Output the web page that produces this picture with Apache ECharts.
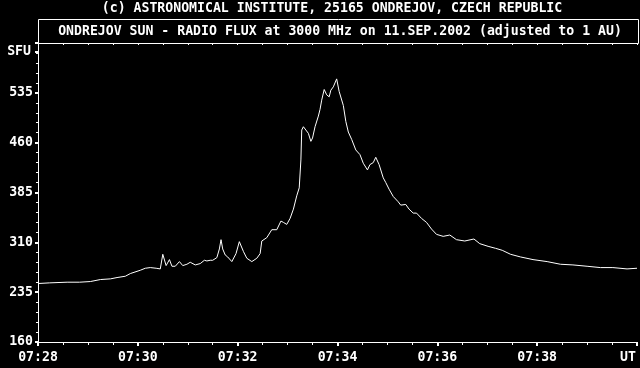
<!DOCTYPE html>
<html>
<head>
<meta charset="utf-8">
<script src="https://cdn.jsdelivr.net/npm/echarts@6/dist/echarts.min.js"></script>
<style>
html,body{margin:0;padding:0;background:#000;}
#chart{width:640px;height:368px;}
</style>
</head>
<body>
<div id="chart"></div>
<script>
const titleText = "(c) ASTRONOMICAL INSTITUTE, 25165 ONDREJOV, CZECH REPUBLIC";
const subtitleText = "ONDREJOV SUN - RADIO FLUX at 3000 MHz on 11.SEP.2002 (adjusted to 1 AU)";
const yUnit = "SFU";
const xUnit = "UT";
const startTime = "07:28:00";
const endTime = "07:40:00";
const yMin = 160, yMax = 610, yStep = 75;

const times = [
"07:28:00","07:28:14","07:28:35","07:28:50","07:29:03","07:29:15","07:29:27","07:29:35","07:29:45","07:29:51",
"07:30:03","07:30:09","07:30:15","07:30:22","07:30:27","07:30:30","07:30:34","07:30:38","07:30:41","07:30:45",
"07:30:50","07:30:54","07:30:59","07:31:03","07:31:09","07:31:15","07:31:20","07:31:23","07:31:27","07:31:30",
"07:31:35","07:31:38","07:31:40","07:31:42","07:31:45","07:31:48","07:31:53","07:31:58","07:32:02","07:32:07",
"07:32:11","07:32:17","07:32:23","07:32:27","07:32:29","07:32:35","07:32:41","07:32:47","07:32:52","07:32:55",
"07:32:59","07:33:03","07:33:07","07:33:11","07:33:14","07:33:16","07:33:17","07:33:19","07:33:22","07:33:25",
"07:33:28","07:33:30","07:33:33","07:33:37","07:33:39","07:33:41","07:33:44","07:33:47","07:33:50","07:33:52",
"07:33:55","07:33:59","07:34:02","07:34:04","07:34:07","07:34:10","07:34:13","07:34:17","07:34:22","07:34:27",
"07:34:31","07:34:36","07:34:39","07:34:43","07:34:46","07:34:50","07:34:55","07:34:58","07:35:02","07:35:07",
"07:35:13","07:35:16","07:35:22","07:35:26","07:35:31","07:35:35","07:35:41","07:35:47","07:35:53","07:35:59",
"07:36:07","07:36:15","07:36:23","07:36:33","07:36:44","07:36:51","07:37:01","07:37:10","07:37:18","07:37:28",
"07:37:40","07:37:55","07:38:12","07:38:28","07:38:43","07:39:00","07:39:16","07:39:31","07:39:48","07:40:00"
];
const flux = [
248,249,250,250,251,254,255,257,259,263,
268,271,272,271,270,292,275,284,274,274,
281,275,277,280,276,278,283,282,283,283,
287,300,314,300,291,288,281,293,311,296,
286,281,286,293,312,317,329,329,342,340,
337,346,360,380,392,434,479,484,479,474,
462,467,484,500,510,524,540,532,529,539,
544,556,537,537,516,492,476,465,449,442,
429,419,427,430,438,427,407,400,390,379,
371,366,367,360,354,354,346,340,330,322,
319,321,314,312,315,308,304,301,298,292,
288,284,281,277,276,274,272,272,270,271
];

function toMin(s){const p=s.split(':').map(Number);return p[0]*60+p[1]+p[2]/60;}
const t0 = toMin(startTime), t1 = toMin(endTime);
const seriesData = times.map((t,i)=>[toMin(t)-t0, flux[i]]);
function pad(n){return (n<10?'0':'')+n;}
function fmtX(v){
  if (Math.abs(v-(t1-t0))<1e-6) return '';
  const m = Math.round(t0+v);
  return pad(Math.floor(m/60))+':'+pad(m%60);
}

const FONT = "'DejaVu Sans Mono', 'Liberation Mono', monospace";
const FS = 13.2;
const W = '#ffffff';
const chart = echarts.init(document.getElementById('chart'), null, {renderer:'canvas'});
chart.setOption({
  backgroundColor:'#000',
  animation:false,
  textStyle:{fontFamily:FONT},
  grid:{left:38,right:2,top:43,bottom:26,containLabel:false},
  xAxis:[{
    type:'value', min:0, max:t1-t0, interval:2, position:'bottom',
    axisLine:{show:true,lineStyle:{color:W,width:1}},
    axisTick:{show:true,length:4,lineStyle:{color:W,width:2}},
    minorTick:{show:true,splitNumber:4,length:3,lineStyle:{color:W,width:1}},
    splitLine:{show:false},
    axisLabel:{color:W,fontFamily:FONT,fontSize:FS,fontWeight:'bold',margin:9,formatter:fmtX}
  },{
    type:'value', min:0, max:t1-t0, interval:0.5, position:'top',
    axisLine:{show:true,lineStyle:{color:W,width:1}},
    axisTick:{show:true,inside:true,length:2,lineStyle:{color:W,width:1}},
    splitLine:{show:false},
    axisLabel:{show:false}
  }],
  yAxis:[{
    type:'value', min:yMin, max:yMax, interval:yStep, position:'left',
    axisLine:{show:true,lineStyle:{color:W,width:1}},
    axisTick:{show:true,length:3,lineStyle:{color:W,width:2}},
    minorTick:{show:true,splitNumber:5,length:2,lineStyle:{color:W,width:1}},
    splitLine:{show:false},
    axisLabel:{color:W,fontFamily:FONT,fontSize:FS,fontWeight:'bold',margin:5,
      formatter:function(v){return v>=yMax?'':String(v);}}
  },{
    type:'value', min:yMin, max:yMax, position:'right',
    axisLine:{show:true,lineStyle:{color:W,width:1}},
    axisTick:{show:false}, axisLabel:{show:false}, splitLine:{show:false}
  }],
  series:[{
    type:'line', data:seriesData, xAxisIndex:0, yAxisIndex:0,
    showSymbol:false, symbol:'none', smooth:false,
    lineStyle:{color:W,width:1}
  }],
  graphic:[
    {type:'text', x:332, y:9, style:{text:titleText, fill:W, font:"bold "+FS+"px "+FONT, align:'center', verticalAlign:'middle'}},
    {type:'rect', shape:{x:38.5,y:19.5,width:600,height:24}, style:{fill:'none',stroke:W,lineWidth:1}},
    {type:'text', x:340, y:32, style:{text:subtitleText, fill:W, font:"bold "+FS+"px "+FONT, align:'center', verticalAlign:'middle'}},
    {type:'text', x:31, y:52, style:{text:yUnit, fill:W, font:"bold "+FS+"px "+FONT, align:'right', verticalAlign:'middle'}},
    {type:'rect', shape:{x:35,y:51,width:3,height:2}, style:{fill:W}},
    {type:'text', x:628, y:358, style:{text:xUnit, fill:W, font:"bold "+FS+"px "+FONT, align:'center', verticalAlign:'middle'}}
  ]
});
</script>
</body>
</html>
